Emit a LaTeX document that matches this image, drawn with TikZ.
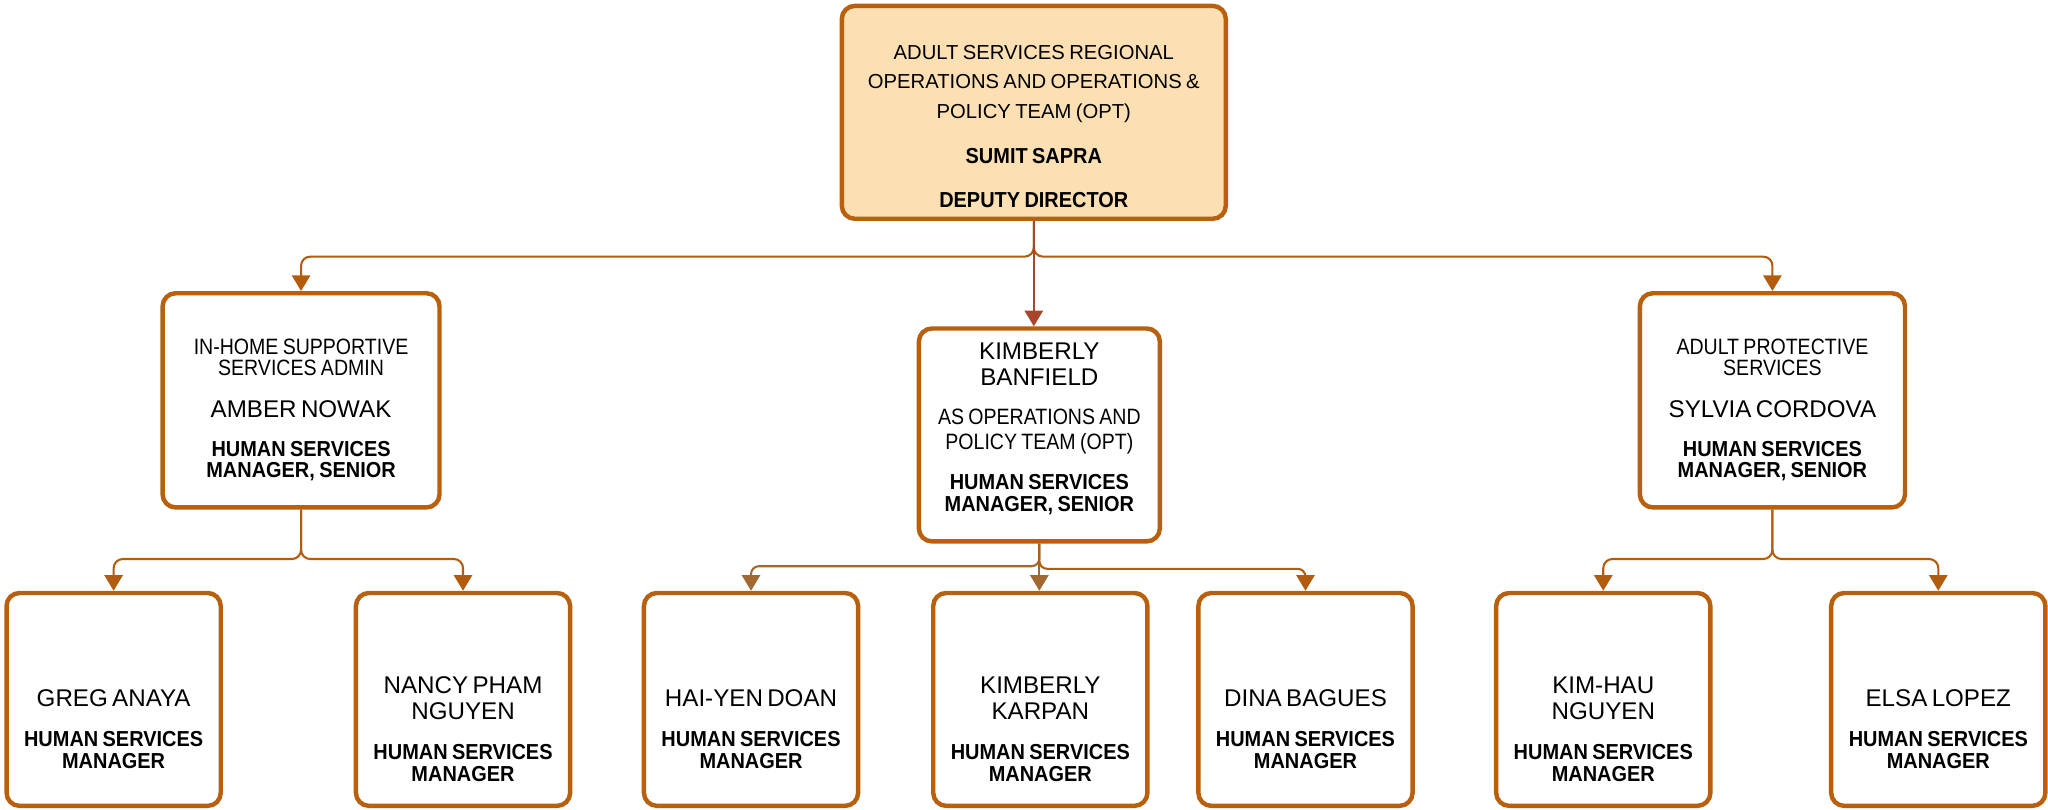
\documentclass[tikz,border=0pt]{standalone}
\usepackage{fontspec}
\usepackage{tikz}
\usetikzlibrary{arrows.meta}
\setmainfont{Liberation Sans}
\newfontfamily\narrowfont{Liberation Sans}[FakeStretch=0.88]
\newfontfamily\boldfont{Liberation Sans}[FakeStretch=0.92]

\definecolor{boxrim}{HTML}{B9600F}
\definecolor{linkrust}{HTML}{B35C0E}
\definecolor{linkbrick}{HTML}{A9442D}
\definecolor{linkbronze}{HTML}{A3682F}
\definecolor{peach}{HTML}{FCE0B4}

\newcommand{\unitline}[2][15.8]{{\narrowfont\fontsize{17}{#1}\selectfont #2\par}}
\newcommand{\personline}[1]{{\fontsize{18.5}{20}\selectfont #1\par}}
\newcommand{\roleline}[2][16]{{\boldfont\bfseries\fontsize{16.6}{#1}\selectfont #2\par}}

\begin{document}
\begin{tikzpicture}[x=1pt, y=-1pt,
        unit/.style={draw=boxrim, line width=3.4pt, rounded corners=10pt, fill=white, inner sep=0pt},
        txt/.style={inner sep=0pt, align=center, text width=#1, execute at begin node=\setlength{\parindent}{0pt}},
        link/.style={draw=linkrust, line width=1.6pt, rounded corners=7pt, -{Triangle[width=14pt,length=12pt]}}
    ]
    \useasboundingbox (0,0) rectangle (1568,620);

    % top
    \node[unit, fill=peach, minimum width=294pt, minimum height=163pt] (opt) at (791.5,86) {};
    \node[txt=285pt] (opt-t) at (791.5,96.9)
        {{\fontsize{15.5}{22.3}\selectfont ADULT SERVICES REGIONAL\\OPERATIONS AND OPERATIONS \&\\POLICY TEAM (OPT)\par}
         \vspace{14.4pt}
         {\boldfont\bfseries\fontsize{16.6}{20}\selectfont SUMIT SAPRA\par}
         \vspace{13.8pt}
         {\boldfont\bfseries\fontsize{16.6}{20}\selectfont DEPUTY DIRECTOR\par}};

    % second row
    \node[unit, minimum width=212pt, minimum height=164pt] (ihss) at (230.5,306.5) {};
    \node[txt=205pt] (ihss-t) at (230.5,313.8)
        {\unitline{IN-HOME SUPPORTIVE\\SERVICES ADMIN}\vspace{11.9pt}
         \personline{AMBER NOWAK}\vspace{14pt}
         \roleline{HUMAN SERVICES\\MANAGER, SENIOR}};

    \node[unit, minimum width=184.5pt, minimum height=163pt] (kb) at (795.75,333) {};
    \node[txt=180pt] (kb-t) at (795.75,328.3)
        {\personline{KIMBERLY\\BANFIELD}\vspace{10.6pt}
         \unitline[19.2]{AS OPERATIONS AND\\POLICY TEAM (OPT)}\vspace{14pt}
         \roleline[16.6]{HUMAN SERVICES\\MANAGER, SENIOR}};

    \node[unit, minimum width=203pt, minimum height=164pt] (aps) at (1357,306.5) {};
    \node[txt=198pt] (aps-t) at (1357,313.8)
        {\unitline{ADULT PROTECTIVE\\SERVICES}\vspace{11.9pt}
         \personline{SYLVIA CORDOVA}\vspace{14pt}
         \roleline{HUMAN SERVICES\\MANAGER, SENIOR}};

    % third row
    \foreach \name/\cx/\who in {greg/87/GREG ANAYA, nancy/354.5/NANCY PHAM\\NGUYEN,
            haiyen/575/HAI-YEN DOAN, karpan/796.5/KIMBERLY\\KARPAN, dina/999.5/DINA BAGUES,
            kimhau/1227.5/KIM-HAU\\NGUYEN, elsa/1484/ELSA LOPEZ} {
        \node[unit, minimum width=164pt, minimum height=163pt] (\name) at (\cx,535.5) {};
        \node[txt=160pt] (\name-t) at (\cx,558.3)
            {\personline{\who}\vspace{13.6pt}\roleline[17]{HUMAN SERVICES\\MANAGER}};
    }

    % connectors
    \coordinate (topbus) at (791.5,196.5);
    \draw[link] (opt.south) -- (topbus) -| (ihss.north);
    \draw[link] (opt.south) -- (topbus) -| (aps.north);
    \draw[link, draw=linkbrick, fill=linkbrick] (opt.south) -- (opt.south |- kb.north);

    \coordinate (ihssbus) at (230.5,428);
    \draw[link] (ihss.south) -- (ihssbus) -| (greg.north);
    \draw[link] (ihss.south) -- (ihssbus) -| (nancy.north);

    \coordinate (kbbusl) at (795.75,433.5);
    \coordinate (kbbusr) at (795.75,435.5);
    \draw[link, draw=linkbronze, rounded corners=6pt] (kb.south) -- (kbbusl) -| (haiyen.north);
    \draw[link, draw=linkbronze] (kb.south) -- (kb.south |- karpan.north);
    \draw[link, rounded corners=6pt] (kb.south) -- (kbbusr) -| (dina.north);

    \coordinate (apsbus) at (1357,428);
    \draw[link] (aps.south) -- (apsbus) -| (kimhau.north);
    \draw[link] (aps.south) -- (apsbus) -| (elsa.north);
\end{tikzpicture}
\end{document}
